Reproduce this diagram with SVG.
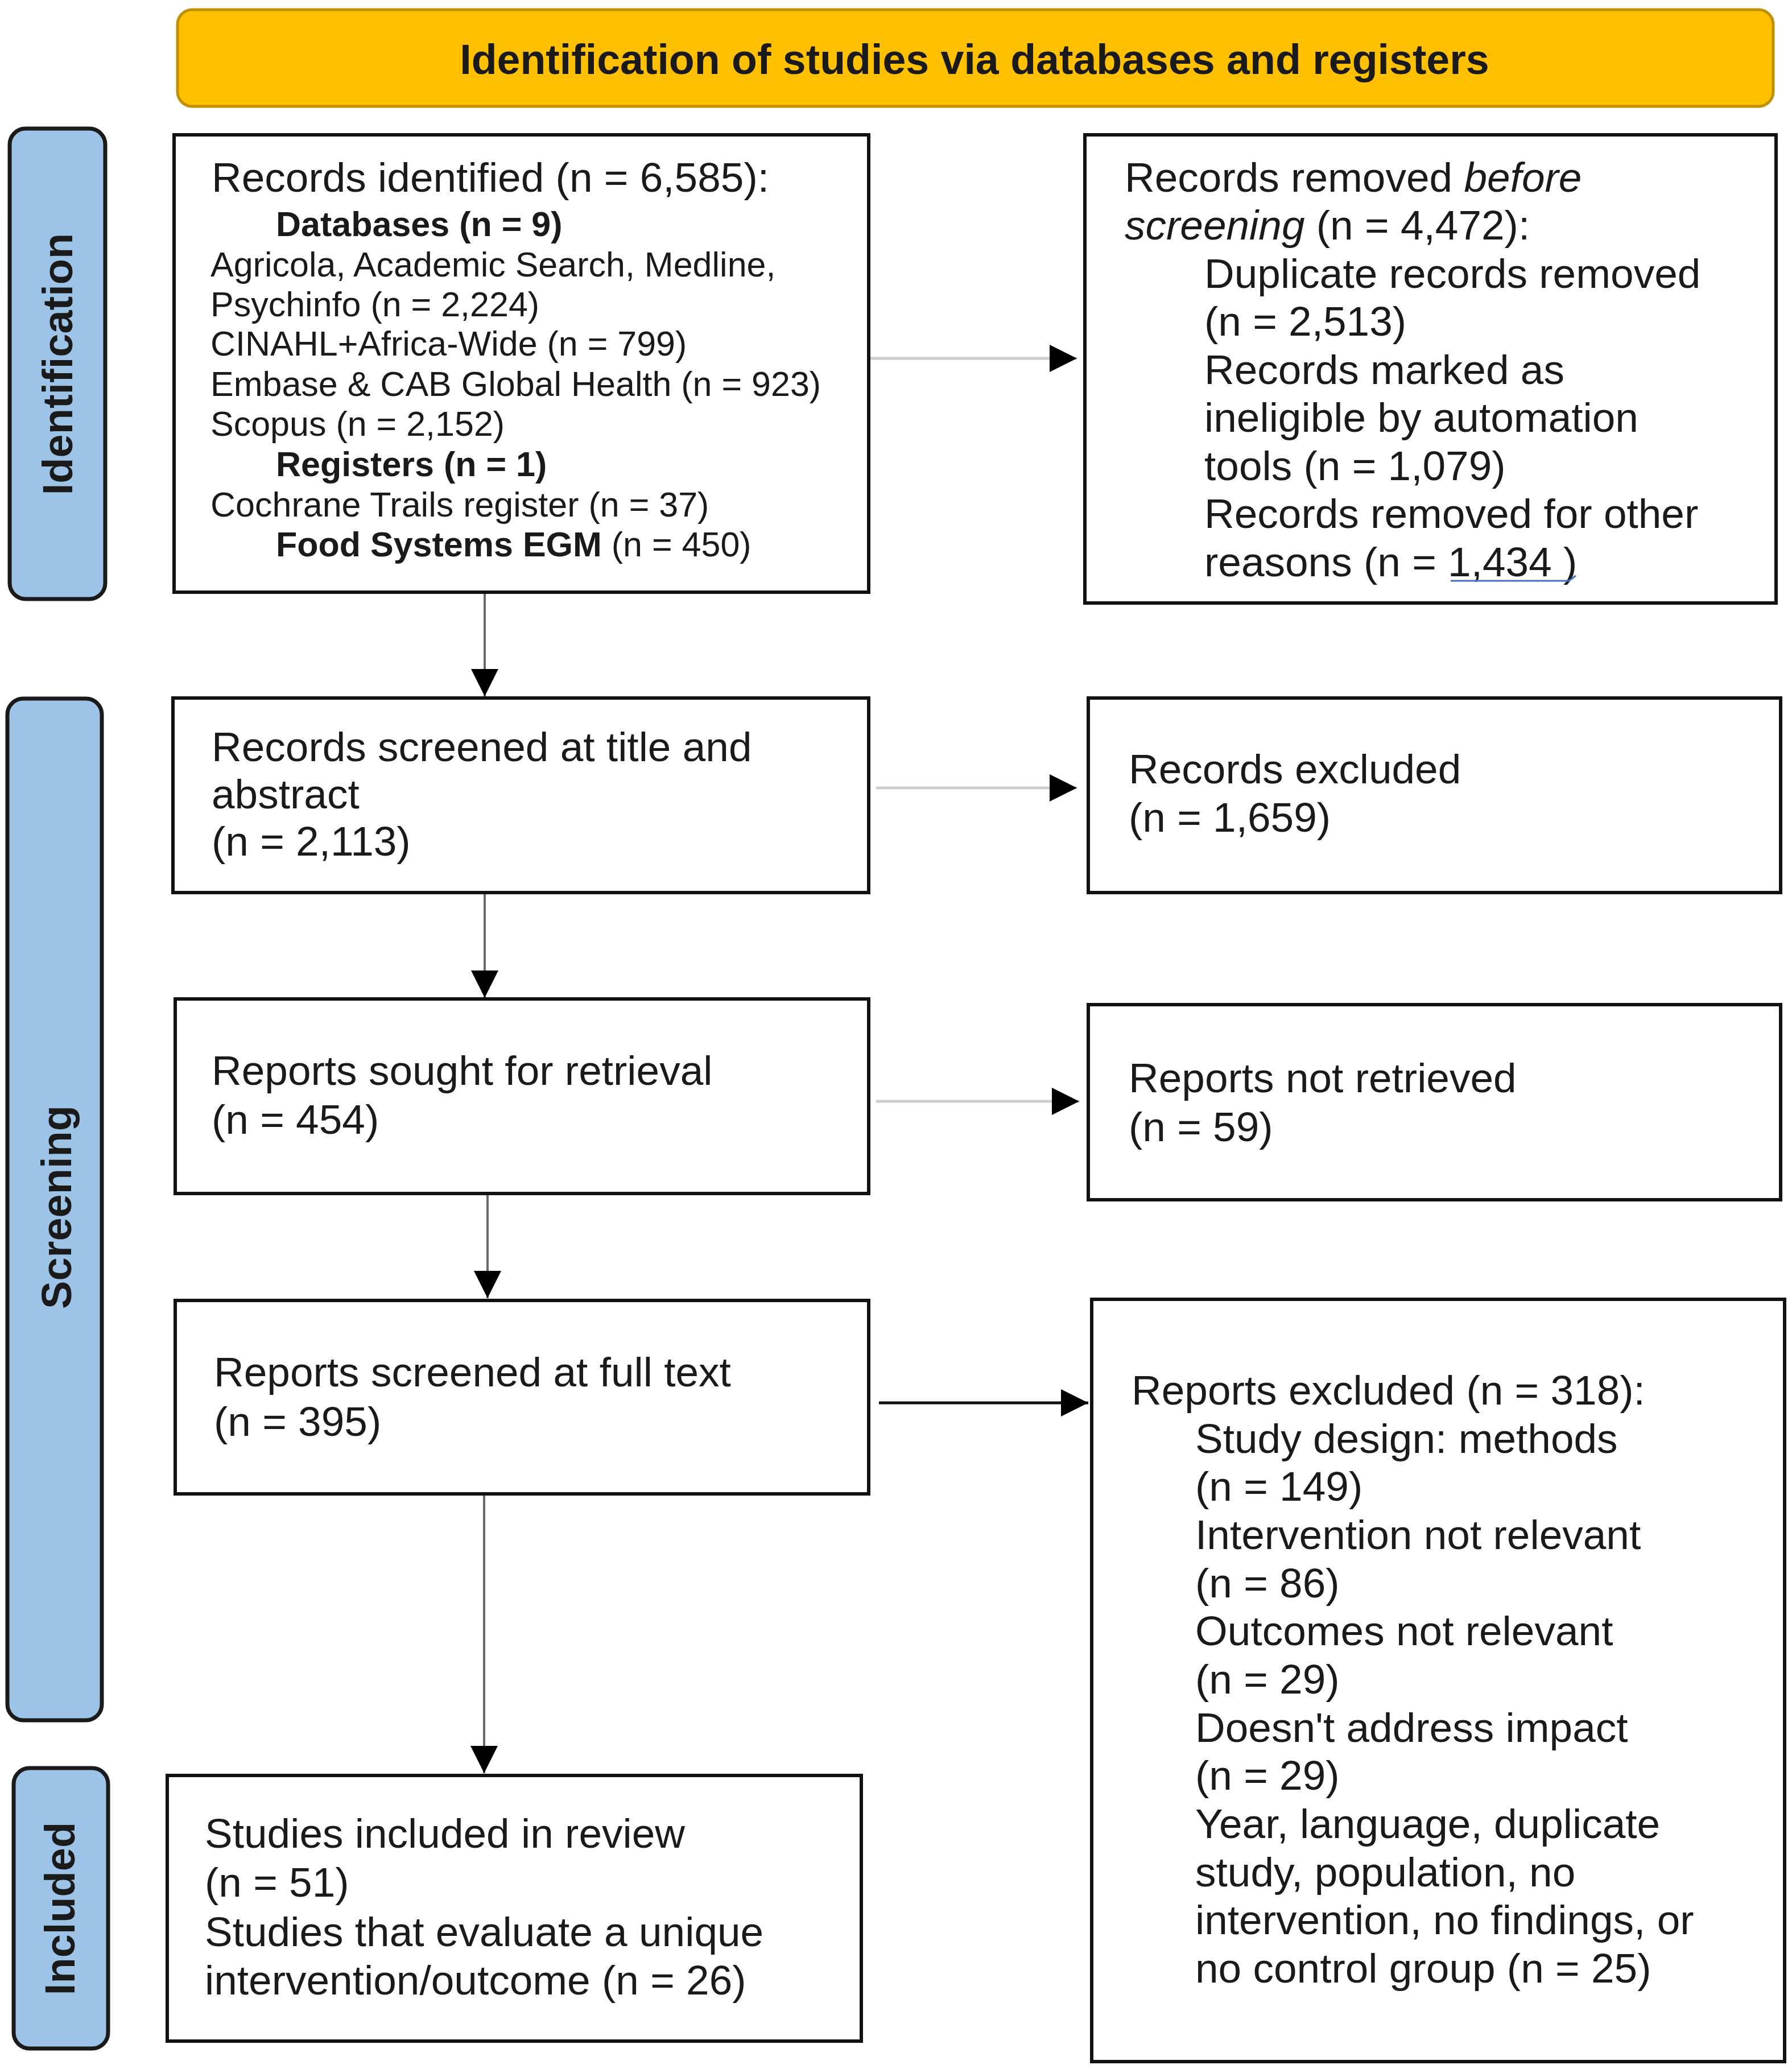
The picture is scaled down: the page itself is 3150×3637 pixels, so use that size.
<svg xmlns="http://www.w3.org/2000/svg" width="3150" height="3637" viewBox="0 0 3150 3637">
<defs>
<style>
.bg{fill:#ffffff}
.box{fill:#ffffff;stroke:#111111;stroke-width:6}
.lab{fill:#9DC3E6;stroke:#1a1a1a;stroke-width:7}
.ban{fill:#FFC000;stroke:#C09000;stroke-width:5}
.t{font-family:"Liberation Sans",Arial,sans-serif;font-size:73px;fill:#1a1a1a}
.s{font-size:61px}
.b{font-weight:bold}
.i{font-style:italic}
.lt{font-family:"Liberation Sans",Arial,sans-serif;font-weight:bold;font-size:74px;fill:#1a1a1a;text-anchor:middle}
.bt{font-family:"Liberation Sans",Arial,sans-serif;font-weight:bold;font-size:73.5px;fill:#1a1a1a;text-anchor:middle}
.cg{stroke:#6a6a6a;stroke-width:4;fill:none}
.cl{stroke:#cccccc;stroke-width:5;fill:none}
.cd{stroke:#111111;stroke-width:5;fill:none}
</style>
<marker id="ah" markerUnits="userSpaceOnUse" markerWidth="48" markerHeight="48" refX="48" refY="24" orient="auto" viewBox="0 0 48 48">
<path d="M0,0 L48,24 L0,48 Z" fill="#000000"/>
</marker>
</defs>
<rect class="bg" x="0" y="0" width="3150" height="3637"/>

<g id="banner">
<rect class="ban" x="312" y="17" width="2805" height="170" rx="26"/>
<text class="bt" x="1713" y="130">Identification of studies via databases and registers</text>
</g>

<g id="label-identification">
<rect class="lab" x="17" y="226" width="168" height="827" rx="28"/>
<text class="lt" transform="translate(127,640) rotate(-90)">Identification</text>
</g>
<g id="label-screening">
<rect class="lab" x="13" y="1228" width="166" height="1796" rx="28"/>
<text class="lt" transform="translate(125,2122) rotate(-90)">Screening</text>
</g>
<g id="label-included">
<rect class="lab" x="24" y="3108" width="166" height="493" rx="28"/>
<text class="lt" transform="translate(131,3355) rotate(-90)">Included</text>
</g>

<g id="connectors">
<line class="cg" x1="852" y1="1042" x2="852" y2="1224" marker-end="url(#ah)"/>
<line class="cg" x1="852" y1="1570" x2="852" y2="1754" marker-end="url(#ah)"/>
<line class="cg" x1="857" y1="2099" x2="857" y2="2282" marker-end="url(#ah)"/>
<line class="cg" x1="851" y1="2627" x2="851" y2="3117" marker-end="url(#ah)"/>
<line class="cl" x1="1530" y1="630" x2="1893" y2="630" marker-end="url(#ah)"/>
<line class="cl" x1="1540" y1="1385" x2="1893" y2="1385" marker-end="url(#ah)"/>
<line class="cl" x1="1540" y1="1936" x2="1897" y2="1936" marker-end="url(#ah)"/>
<line class="cd" x1="1545" y1="2466" x2="1913" y2="2466" marker-end="url(#ah)"/>
</g>

<g id="records-identified">
<rect class="box" x="306" y="237" width="1221" height="804"/>
<text class="t" x="372" y="337">Records identified (n = 6,585):</text>
<text class="t s b" x="485" y="415">Databases (n = 9)</text>
<text class="t s" x="370" y="486">Agricola, Academic Search, Medline,</text>
<text class="t s" x="370" y="556">Psychinfo (n = 2,224)</text>
<text class="t s" x="370" y="625">CINAHL+Africa-Wide (n = 799)</text>
<text class="t s" x="370" y="696">Embase &amp; CAB Global Health (n = 923)</text>
<text class="t s" x="370" y="766">Scopus (n = 2,152)</text>
<text class="t s b" x="485" y="837">Registers (n = 1)</text>
<text class="t s" x="370" y="908">Cochrane Trails register (n = 37)</text>
<text class="t s" x="485" y="978"><tspan class="b">Food Systems EGM</tspan> (n = 450)</text>
</g>

<g id="records-removed">
<rect class="box" x="1907" y="237" width="1215" height="823"/>
<text class="t" x="1977" y="337">Records removed <tspan class="i">before</tspan></text>
<text class="t" x="1977" y="421"><tspan class="i">screening</tspan> (n = 4,472):</text>
<text class="t" x="2117" y="506">Duplicate records removed</text>
<text class="t" x="2117" y="590">(n = 2,513)</text>
<text class="t" x="2117" y="675">Records marked as</text>
<text class="t" x="2117" y="759">ineligible by automation</text>
<text class="t" x="2117" y="844">tools (n = 1,079)</text>
<text class="t" x="2117" y="928">Records removed for other</text>
<text class="t" x="2117" y="1013">reasons (n = 1,434 )</text>
<polyline points="2550,1021 2758,1021 2770,1012" fill="none" stroke="#4472C4" stroke-width="3"/>
</g>

<g id="records-screened">
<rect class="box" x="304" y="1227" width="1223" height="342"/>
<text class="t" x="372" y="1338">Records screened at title and</text>
<text class="t" x="372" y="1421">abstract</text>
<text class="t" x="372" y="1504">(n = 2,113)</text>
</g>

<g id="records-excluded">
<rect class="box" x="1913" y="1227" width="1217" height="342"/>
<text class="t" x="1984" y="1377">Records excluded</text>
<text class="t" x="1984" y="1462">(n = 1,659)</text>
</g>

<g id="reports-sought">
<rect class="box" x="308" y="1756" width="1219" height="342"/>
<text class="t" x="372" y="1907">Reports sought for retrieval</text>
<text class="t" x="372" y="1993">(n = 454)</text>
</g>

<g id="reports-not-retrieved">
<rect class="box" x="1913" y="1766" width="1217" height="343"/>
<text class="t" x="1984" y="1920">Reports not retrieved</text>
<text class="t" x="1984" y="2006">(n = 59)</text>
</g>

<g id="reports-screened">
<rect class="box" x="308" y="2286" width="1219" height="340"/>
<text class="t" x="376" y="2437">Reports screened at full text</text>
<text class="t" x="376" y="2524">(n = 395)</text>
</g>

<g id="reports-excluded">
<rect class="box" x="1919" y="2284" width="1218" height="1340"/>
<text class="t" x="1989" y="2469">Reports excluded (n = 318):</text>
<text class="t" x="2101" y="2554">Study design: methods</text>
<text class="t" x="2101" y="2638">(n = 149)</text>
<text class="t" x="2101" y="2723">Intervention not relevant</text>
<text class="t" x="2101" y="2808">(n = 86)</text>
<text class="t" x="2101" y="2892">Outcomes not relevant</text>
<text class="t" x="2101" y="2977">(n = 29)</text>
<text class="t" x="2101" y="3062">Doesn't address impact</text>
<text class="t" x="2101" y="3146">(n = 29)</text>
<text class="t" x="2101" y="3231">Year, language, duplicate</text>
<text class="t" x="2101" y="3316">study, population, no</text>
<text class="t" x="2101" y="3400">intervention, no findings, or</text>
<text class="t" x="2101" y="3485">no control group (n = 25)</text>
</g>

<g id="studies-included">
<rect class="box" x="294" y="3121" width="1220" height="467"/>
<text class="t" x="360" y="3248">Studies included in review</text>
<text class="t" x="360" y="3334">(n = 51)</text>
<text class="t" x="360" y="3421">Studies that evaluate a unique</text>
<text class="t" x="360" y="3506">intervention/outcome (n = 26)</text>
</g>
</svg>
